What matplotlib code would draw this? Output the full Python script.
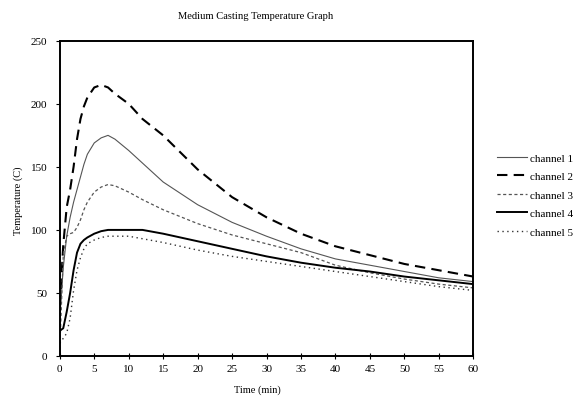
import numpy as np
from matplotlib import pyplot as plt

# Time axis (min) shared by all channels
time_min = [0, 0.5, 1, 1.5, 2, 2.5, 3, 3.5, 4, 5, 6, 7, 8, 10, 12, 15, 20, 25, 30, 35, 40, 45, 50, 55, 60]

# Temperatures (C)
channel1 = [30, 70, 95, 110, 122, 132, 142, 152, 160, 169, 173, 175, 172, 163, 153, 138, 120, 106, 95, 85, 77, 72, 67, 62, 59]
channel2 = [40, 88, 118, 132, 150, 172, 188, 198, 205, 213, 215, 213, 208, 200, 188, 175, 148, 126, 110, 97, 87, 80, 73, 68, 63]
channel3 = [5, 80, 95, 97, 98, 102, 108, 116, 122, 130, 134, 136, 135, 130, 124, 116, 105, 96, 89, 82, 72, 66, 61, 57, 54]
channel4 = [20, 22, 35, 50, 68, 82, 89, 92, 94, 97, 99, 100, 100, 100, 100, 97, 91, 85, 79, 74, 70, 67, 63, 60, 57]
channel5 = [10, 14, 18, 30, 52, 68, 78, 85, 89, 92, 94, 95, 95, 95, 93, 90, 84, 79, 75, 71, 67, 63, 59, 55, 52]

labels = ['channel 1', 'channel 2', 'channel 3', 'channel 4', 'channel 5']
xticks = np.arange(0, 61, 5)
yticks = np.arange(0, 251, 50)


def drawCastingGraph():
    # Choose font
    plt.rc('font', family='Liberation Serif')

    fig = plt.figure(figsize=(5.75, 4.02), dpi=100)
    ax1 = fig.add_axes([0.104, 0.112, 0.719, 0.784])

    # Draw lines
    ax1.plot(time_min, channel1, color='#555555', lw=0.8, label=labels[0])
    ax1.plot(time_min, channel2, color='black', lw=1.5, dashes=(5, 3), label=labels[1])
    ax1.plot(time_min, channel3, color='#555555', lw=0.9, dashes=(2.5, 2), label=labels[2])
    ax1.plot(time_min, channel4, color='black', lw=1.4, label=labels[3])
    ax1.plot(time_min, channel5, color='#333333', lw=1.0, dashes=(1, 2.5), label=labels[4])

    # Initialize axis
    ax1.set_xlim((0, 60))
    ax1.set_ylim((0, 250))
    ax1.set_xticks(xticks)
    ax1.set_yticks(yticks)
    for s in ax1.spines.values():
        s.set_linewidth(1.4)
    ax1.tick_params(axis='x', direction='inout', length=5, labelsize=8, pad=3)
    ax1.tick_params(axis='y', direction='out', length=3, labelsize=8, pad=6)

    # Labels and title
    fig.text(0.445, 0.96, 'Medium Casting Temperature Graph', ha='center', va='center', fontsize=7.6)
    fig.text(0.448, 0.03, 'Time (min)', ha='center', va='center', fontsize=7.5)
    fig.text(0.032, 0.50, 'Temperature (C)', ha='center', va='center', rotation=90, fontsize=7.5)

    # Draw legends
    fig.legend(loc='upper left', bbox_to_anchor=(0.864, 0.617), frameon=False,
               fontsize=8, handlelength=2.7, handletextpad=0.3, labelspacing=0.78,
               borderaxespad=0, borderpad=0)

    plt.savefig("out.png", dpi=100)

    return


drawCastingGraph()
